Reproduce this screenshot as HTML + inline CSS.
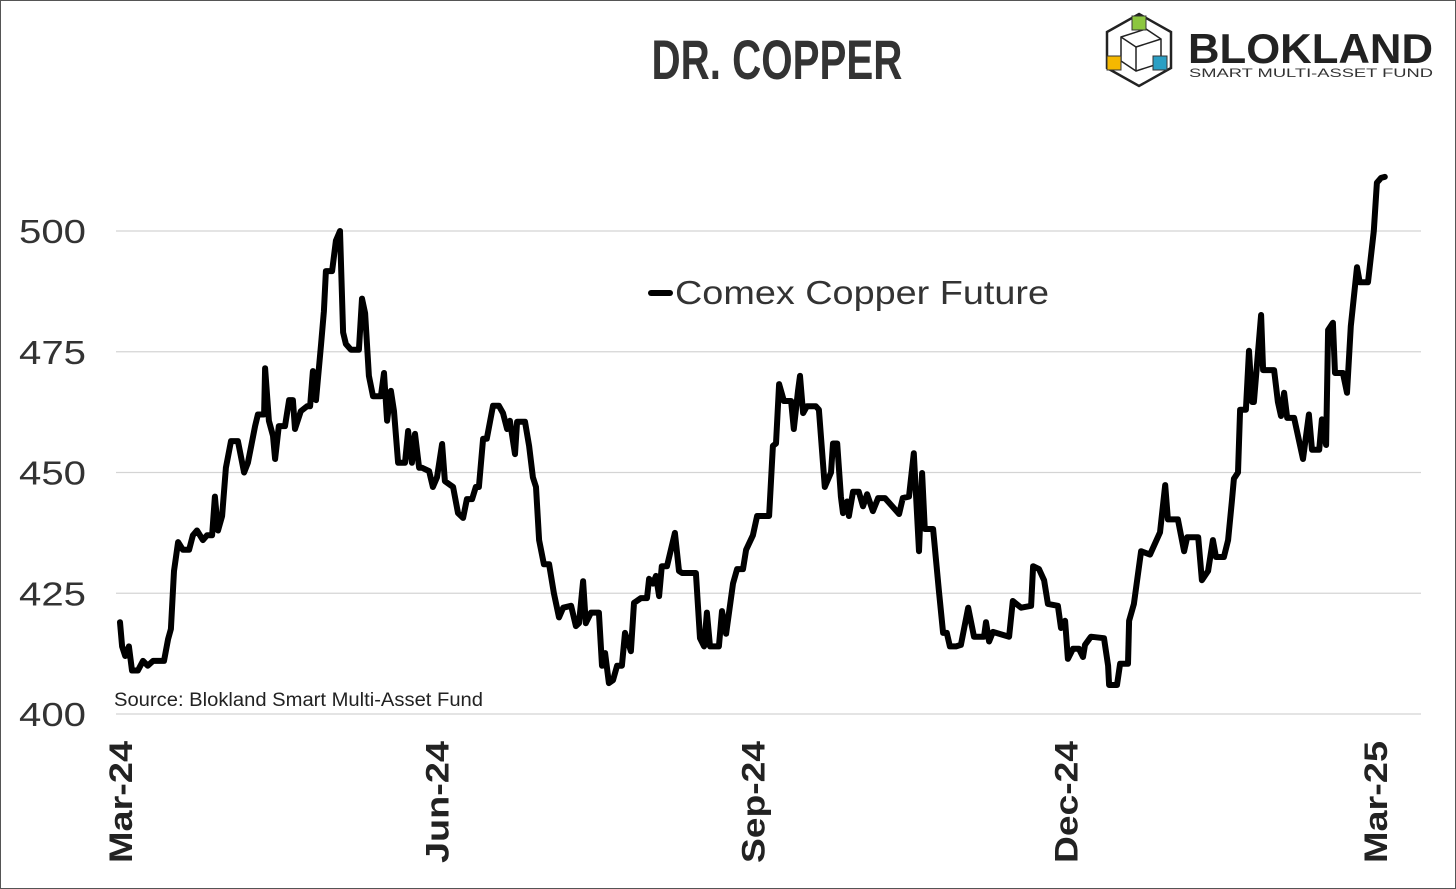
<!DOCTYPE html>
<html><head><meta charset="utf-8">
<style>
html,body{margin:0;padding:0;background:#fff;}
#wrap{position:relative;width:1456px;height:889px;box-sizing:border-box;border:1px solid #555;overflow:hidden;font-family:"Liberation Sans",sans-serif;}
svg{position:absolute;left:0;top:0;}
</style></head>
<body>
<div id="wrap">
<svg id="chart" width="1456" height="889">
  <text x="776" y="78" text-anchor="middle" font-size="56" font-weight="bold" fill="#333" transform="translate(776,0) scale(0.72,1) translate(-776,0)">DR. COPPER</text>
  <g>
    <polygon points="1138,13 1170,31 1170,67 1138,85 1106,67 1106,31" fill="none" stroke="#222" stroke-width="2.5"/>
    <polygon points="1120,36 1145,28 1160,38 1160,62 1135,70 1120,60" fill="none" stroke="#222" stroke-width="1.5"/>
    <line x1="1135" y1="46" x2="1135" y2="70" stroke="#222" stroke-width="1.5"/>
    <line x1="1120" y1="36" x2="1135" y2="46" stroke="#222" stroke-width="1.5"/>
    <line x1="1160" y1="38" x2="1135" y2="46" stroke="#222" stroke-width="1.5"/>
    <rect x="1131" y="15" width="14" height="14" fill="#8cc63f" stroke="#333" stroke-width="1"/>
    <rect x="1106" y="55" width="14" height="14" fill="#f5b800" stroke="#333" stroke-width="1"/>
    <rect x="1152" y="55" width="14" height="14" fill="#2b9fc4" stroke="#333" stroke-width="1"/>
    <text x="1187" y="62" font-size="42" font-weight="bold" fill="#222" textLength="245" lengthAdjust="spacingAndGlyphs">BLOKLAND</text>
    <text x="1188" y="76" font-size="12" fill="#333" textLength="244" lengthAdjust="spacingAndGlyphs">SMART MULTI-ASSET FUND</text>
  </g>
  <g id="grid"></g>
  <g id="yticks"></g>
  <g id="xticks"></g>
  <g>
    <line x1="650" y1="292" x2="669" y2="292" stroke="#000" stroke-width="6" stroke-linecap="round"/>
    <text x="674" y="303" font-size="33" fill="#333" textLength="374" lengthAdjust="spacingAndGlyphs">Comex Copper Future</text>
  </g>
  <text x="113" y="705" font-size="19" fill="#222" textLength="369" lengthAdjust="spacingAndGlyphs">Source: Blokland Smart Multi-Asset Fund</text>
  <path id="series" fill="none" stroke="#000" stroke-width="6" stroke-linejoin="round" stroke-linecap="round"/>
</svg>
</div>
<script>
const yTickValues = [400, 425, 450, 475, 500];
const xTickLabels = ["Mar-24", "Jun-24", "Sep-24", "Dec-24", "Mar-25"];
const xTickDays = [0, 92, 184, 275, 365];
const dayOffsets = [0,0.6,1.5,2.6,3.5,5.2,6.7,8.1,9.6,12.8,14,14.8,15.7,16.9,18.3,20.1,21.2,22.4,24.1,25.3,26.8,27.6,28.5,29.7,30.8,32.3,34.3,36.1,37.2,39.3,40.1,41.9,42.2,43.3,44.5,45.1,46.2,48,49.2,50.3,50.9,52.6,54.4,55.3,56.1,57,58.5,59.3,59.9,61.7,62.8,64,64.9,65.7,67.2,69.5,70.4,71.3,72.4,73.6,75.9,76.8,77.7,78.8,79.7,80.9,82.9,83.8,84.9,85.8,87,87.8,89.9,91,92.2,93.7,94.5,96.9,98.3,99.8,100.9,102.4,103.5,104.4,105.6,106.7,108.5,110.2,111.4,112.6,113.4,114.9,115.5,117.8,119,120.1,121,121.9,123.3,124.8,
126.2,127.7,128.9,131.2,132.6,133.5,134.7,135.5,137,139.3,140.2,141.1,142.2,143.4,144.6,146,146.9,148.6,149.5,151.5,153.3,153.9,155,155.9,156.8,157.6,159.1,161.4,162.6,163.5,167.5,168.7,169.9,170.7,171.6,174.2,175.1,176.3,178.3,179.5,181.2,182.1,184.1,185.3,188.8,189.9,190.8,191.7,193.1,195.2,196,197.2,197.8,198.7,199.8,202.4,203.3,205,206.8,207.4,208.6,209.7,210.3,211.5,212,213.2,214.9,216.1,217.3,219,220.5,222.5,226.6,227.7,229.5,230.9,232.4,233.3,234.1,236.5,238.2,239.4,240.5,241.4,243.2,
244.6,246.7,248.4,251.3,251.9,252.8,253.9,258.6,259.7,262.1,265,265.6,267.3,268.8,269.9,272.8,273.7,274.9,275.7,277.2,278.9,280.1,280.7,282.4,286.2,287.4,287.7,290,290.9,293.2,293.5,294.9,297,299.6,302.5,304,304.8,307.7,309.5,310.4,313.6,314.7,316.5,317.9,318.8,321.1,322.3,323.4,324,325.2,325.8,327.5,328.4,329.3,329.8,331.9,332.5,335.7,336.8,337.7,338.6,339.5,341.5,344.1,345.8,346.7,348.8,349.6,350.8,351.4,352.8,353.4,355.7,356.9,358,359.8,360.6,363,364.7,365.6,366.8,367.9];
const copperPrices = [419,414,412,414,409,409,411,410,411,411,415.5,417.6,429.6,435.6,434,434,437,438,436,437,437,445,438,441,451,456.5,456.5,450,452,459.6,462,462,471.6,460.7,457.6,452.8,459.6,459.6,465,465,459,462.7,463.7,463.7,471,465,476.6,483.4,491.7,491.7,498,500,479,476.6,475.4,475.4,486,483,470,465.8,465.8,470.6,460.7,466.9,462.7,452,452,458.6,452,458,451,451,450.3,447,449,455.9,448.2,447,441.6,440.6,444.5,444.5,447,447,457,457,463.8,463.8,462.3,459,460.7,453.8,460.5,460.5,455.5,449,447,436,431,431,
425,420,422,422.4,418.2,418.8,427.5,418.8,421,421,410,412.6,406.4,407,410,410,416.8,413,423,424,424,428,427,428.6,424.4,430.6,430.6,437.5,429.6,429.2,429.2,415.7,414,421,414,414,421.3,416.6,427,430,430,434,437,441,441,455.5,456,468.3,464.8,464.8,459,466.9,470,462.3,463.7,463.7,463,447,450,456,456,445,441.6,444,441,446,446,443,445.5,442,444.7,444.7,441.4,444.7,445,454,433.7,449.9,438.3,438.3,425.5,416.8,416.8,414,414,
414.3,422,416,416,419,415,417,416,423.4,422,422.4,430.6,430,427.7,422.8,422.4,417.8,419.3,411.4,413.5,413.5,411.8,414.3,416,415.7,410,406,406,410.4,410.4,419.3,422.8,433.7,433,437.6,447.4,440.3,440.3,433.7,436.6,436.6,427.7,429.6,436,432.5,432.5,436,443.9,448.7,450,463,463,475.2,464.6,464.6,482.6,471.2,471.2,464.6,461.7,466.5,461.3,461.3,452.8,462,454.7,454.7,461,455.7,479.5,481,470.6,470.6,466.5,480.3,492.5,489.4,489.4,500,510,511,511.2];

const NS = "http://www.w3.org/2000/svg";
function xScale(d){ return 119 + d * 3.438; }
function yScale(v){ return 713 - (v - 400) * 4.83; }

const grid = document.getElementById('grid');
const yt = document.getElementById('yticks');
yTickValues.forEach(v => {
  const y = yScale(v);
  const ln = document.createElementNS(NS, 'line');
  ln.setAttribute('x1', 115); ln.setAttribute('x2', 1420);
  ln.setAttribute('y1', y); ln.setAttribute('y2', y);
  ln.setAttribute('stroke', '#d4d4d4'); ln.setAttribute('stroke-width', '1.2');
  
  
  grid.appendChild(ln);
  const t = document.createElementNS(NS, 'text');
  t.setAttribute('x', 18); t.setAttribute('y', y + 12);
  t.setAttribute('font-size', '33'); t.setAttribute('fill', '#333');
  t.setAttribute('textLength', '67'); t.setAttribute('lengthAdjust', 'spacingAndGlyphs');
  t.textContent = v;
  
  
  yt.appendChild(t);
});

const xt = document.getElementById('xticks');
xTickLabels.forEach((lab, i) => {
  const x = xScale(xTickDays[i]) + 12;
  const t = document.createElementNS(NS, 'text');
  t.setAttribute('x', x); t.setAttribute('y', 740);
  t.setAttribute('text-anchor', 'end');
  t.setAttribute('font-size', '32'); t.setAttribute('font-weight', 'bold'); t.setAttribute('fill', '#222');
  t.setAttribute('textLength', '122'); t.setAttribute('lengthAdjust', 'spacingAndGlyphs');
  t.setAttribute('transform', 'rotate(-90 ' + x + ' 740)');
  t.textContent = lab;
  
  
  xt.appendChild(t);
});

const path = document.getElementById('series');
let d = '';
copperPrices.forEach((v, i) => {
  d += (i ? 'L' : 'M') + xScale(dayOffsets[i]).toFixed(1) + ',' + yScale(v).toFixed(1);
});
path.setAttribute('d', d);


</script>
</body></html>
